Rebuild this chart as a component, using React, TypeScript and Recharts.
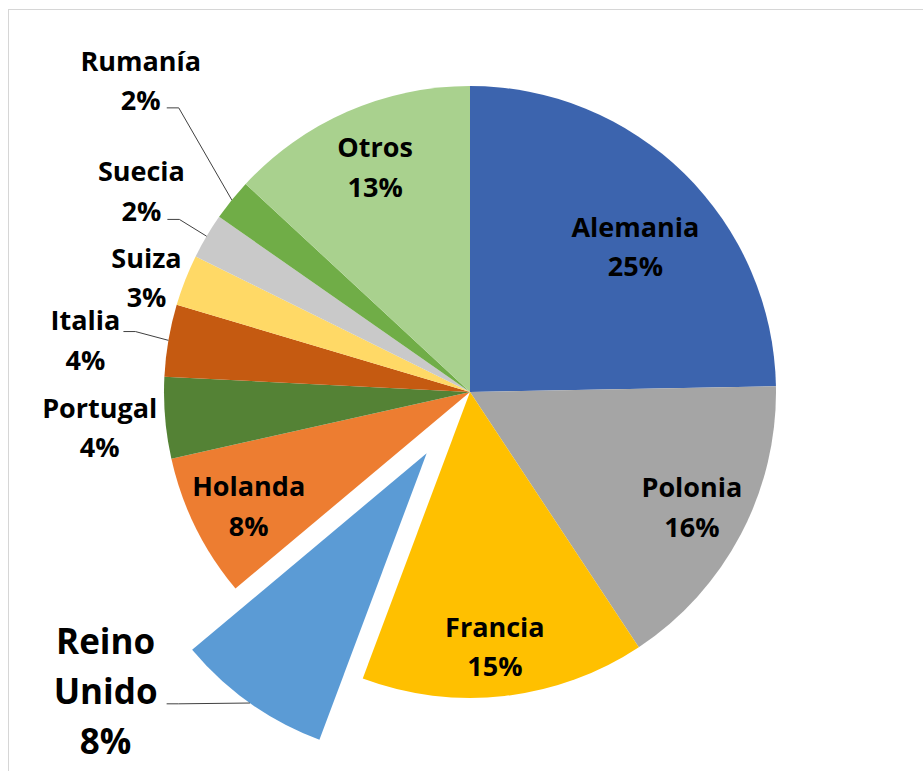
import { PieChart, Pie, Cell } from "recharts"

const COUNTRIES = ["Alemania", "Polonia", "Francia", "Reino Unido", "Holanda", "Portugal", "Italia", "Suiza", "Suecia", "Rumanía", "Otros"]
const SHARES = [24.7, 16.0, 15.0, 8.2, 7.6, 4.3, 3.8, 2.7, 2.4, 2.2, 13.1]
const COLORS = ["#3C64AE", "#A5A5A5", "#FFC000", "#5B9BD5", "#ED7D31", "#548235", "#C55A11", "#FFD966", "#C9C9C9", "#70AD47", "#A9D18E"]
const EXPLODED = "Reino Unido"

const data = COUNTRIES.map((name, i) => ({ name, value: SHARES[i] }))

const CX = 461
const CY = 382
const R = 306
const EXPLODE_DIST = 75

// where each label sits: distance from slice centre, angle shift from the slice middle (deg, clockwise),
// optional bigger font and the start of a leader line relative to the label centre
const LABEL_SPOTS: Record<string, { r: number; da: number; big?: boolean; leader?: [number, number] }> = {
  Alemania: { r: 220, da: 4.3 },
  Polonia: { r: 250, da: -0.3 },
  Francia: { r: 256, da: 0.9 },
  "Reino Unido": { r: 400, da: 18.1, big: true, leader: [61, 12] },
  Holanda: { r: 249, da: -1.0 },
  Portugal: { r: 372, da: -0.7 },
  Italia: { r: 388, da: -2.1, leader: [38, -9] },
  Suiza: { r: 343, da: -2.0 },
  Suecia: { r: 385, da: 0.8, leader: [26, 28] },
  Rumanía: { r: 453, da: 4.5, leader: [26, 27] },
  Otros: { r: 244, da: 0.7 },
}

const total = SHARES.reduce((a, b) => a + b, 0)
const exIdx = COUNTRIES.indexOf(EXPLODED)
const exMid = ((SHARES.slice(0, exIdx).reduce((a, b) => a + b, 0) + SHARES[exIdx] / 2) / total) * 360
const OFF_X = EXPLODE_DIST * Math.sin((exMid * Math.PI) / 180)
const OFF_Y = -EXPLODE_DIST * Math.cos((exMid * Math.PI) / 180)

const polar = (cx: number, cy: number, r: number, deg: number) => ({
  x: cx + r * Math.sin((deg * Math.PI) / 180),
  y: cy - r * Math.cos((deg * Math.PI) / 180),
})

const renderLabel = (props: any) => {
  const { name, percent, midAngle } = props
  const spot = LABEL_SPOTS[name]
  if (!spot) return null
  const cx = props.cx + (name === EXPLODED ? OFF_X : 0)
  const cy = props.cy + (name === EXPLODED ? OFF_Y : 0)
  const theta = 90 - midAngle // clockwise from 12 o'clock
  const anchor = polar(cx, cy, spot.r, theta + spot.da)
  const size = spot.big ? 35 : 27
  const lh = spot.big ? 50 : 39.5
  const lines = [...name.split(" "), `${Math.round(percent * 100)}%`]
  let leader = null
  if (spot.leader) {
    const sx = anchor.x + spot.leader[0]
    const sy = anchor.y + spot.leader[1]
    const end = polar(cx, cy, props.outerRadius, theta)
    leader = (
      <path d={`M${sx},${sy} L${sx + 12},${sy} L${end.x},${end.y}`} stroke="#404040" strokeWidth={1} fill="none" />
    )
  }
  return (
    <g key={`lbl-${name}`}>
      {leader}
      {lines.map((t, i) => (
        <text
          key={t}
          x={anchor.x}
          y={anchor.y + (i - (lines.length - 1) / 2) * lh + size * 0.357}
          textAnchor="middle"
          fontFamily="'Open Sans', sans-serif"
          fontWeight={700}
          fontSize={size}
          fill="#000"
        >
          {t}
        </text>
      ))}
    </g>
  )
}

export default function App() {
  return (
    <div
      style={{
        position: "absolute",
        left: 8,
        top: 9,
        width: 914,
        height: 761,
        borderTop: "1px solid #d6d6d6",
        borderLeft: "1px solid #d6d6d6",
        background: "#fff",
        overflow: "hidden",
      }}
    >
      <PieChart width={913} height={760} margin={{ top: 0, right: 0, bottom: 0, left: 0 }}>
        <Pie
          data={data}
          dataKey="value"
          nameKey="name"
          cx={CX}
          cy={CY}
          outerRadius={R}
          startAngle={90}
          endAngle={-270}
          stroke="none"
          label={renderLabel}
          labelLine={false}
          isAnimationActive={false}
        >
          {data.map((d, i) => (
            <Cell key={`c-${i}`} fill={d.name === EXPLODED ? "none" : COLORS[i]} />
          ))}
        </Pie>
        <Pie
          data={data}
          dataKey="value"
          nameKey="name"
          cx={CX + OFF_X}
          cy={CY + OFF_Y}
          outerRadius={R}
          startAngle={90}
          endAngle={-270}
          stroke="none"
          isAnimationActive={false}
        >
          {data.map((d, i) => (
            <Cell key={`e-${i}`} fill={d.name === EXPLODED ? COLORS[i] : "none"} />
          ))}
        </Pie>
      </PieChart>
    </div>
  )
}
